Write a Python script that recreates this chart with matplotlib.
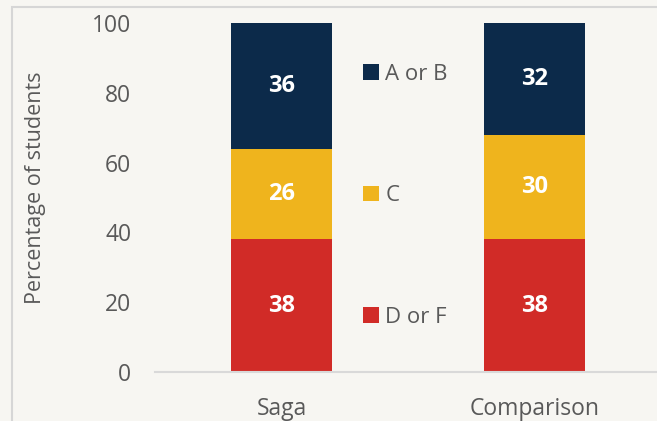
import numpy as np
import matplotlib
matplotlib.use('Agg')
import matplotlib.pyplot as plt
from matplotlib.patches import Rectangle

plt.rcParams['font.family'] = ['Open Sans', 'DejaVu Sans']

GROUPS = ['Saga', 'Comparison']
GRADES = ['D or F', 'C', 'A or B']
VALUES = {'D or F': [38, 38], 'C': [26, 30], 'A or B': [36, 32]}
COLORS = {'D or F': '#d12b27', 'C': '#efb41d', 'A or B': '#0c2a4a'}

BG = '#f7f6f2'
TXT = '#595959'

fig = plt.figure(figsize=(6.57, 4.21), dpi=100, facecolor=BG)
fig.patches.append(Rectangle((12 / 657, -0.1), 1.2, 1 - 7 / 421 + 0.1,
                             transform=fig.transFigure, fill=False,
                             edgecolor='#d6d6d6', linewidth=1.5))
ax = fig.add_axes([155 / 657, (421 - 372) / 421, (661 - 155) / 657, (372 - 23) / 421])
ax.set_facecolor(BG)

x = np.arange(len(GROUPS))
bottom = np.zeros(len(GROUPS))
handles = {}
for g in GRADES:
    bars = ax.bar(x, VALUES[g], 0.403, bottom=bottom, color=COLORS[g], label=g)
    ax.bar_label(bars, label_type='center', color='white', fontsize=17,
                 fontweight='bold')
    handles[g] = bars
    bottom += np.array(VALUES[g])

ax.set_xlim(-0.5, 1.5)
ax.set_ylim(0, 100)
ax.set_yticks(range(0, 101, 20))
ax.set_xticks(x)
ax.set_xticklabels(GROUPS)
ax.tick_params(length=0, labelsize=16.5, colors=TXT)
ax.tick_params(axis='x', pad=18)
ax.tick_params(axis='y', pad=17)
for s in ['top', 'right', 'left']:
    ax.spines[s].set_visible(False)
ax.spines['bottom'].set_color('#d9d9d9')
ax.spines['bottom'].set_linewidth(1.5)
ax.set_ylabel('Percentage of students', fontsize=15.5, color=TXT)
ax.yaxis.set_label_coords(-0.215, 0.527)

leg = ax.legend([handles[g] for g in GRADES[::-1]], GRADES[::-1],
                loc='upper left', bbox_to_anchor=(343 / 657, 1 - 44 / 421),
                bbox_transform=fig.transFigure, frameon=False, fontsize=16,
                handlelength=0.7, handleheight=0.7, handletextpad=0.3,
                labelspacing=4.52, labelcolor=TXT)

fig.savefig('out.png', dpi=100, facecolor=BG)
